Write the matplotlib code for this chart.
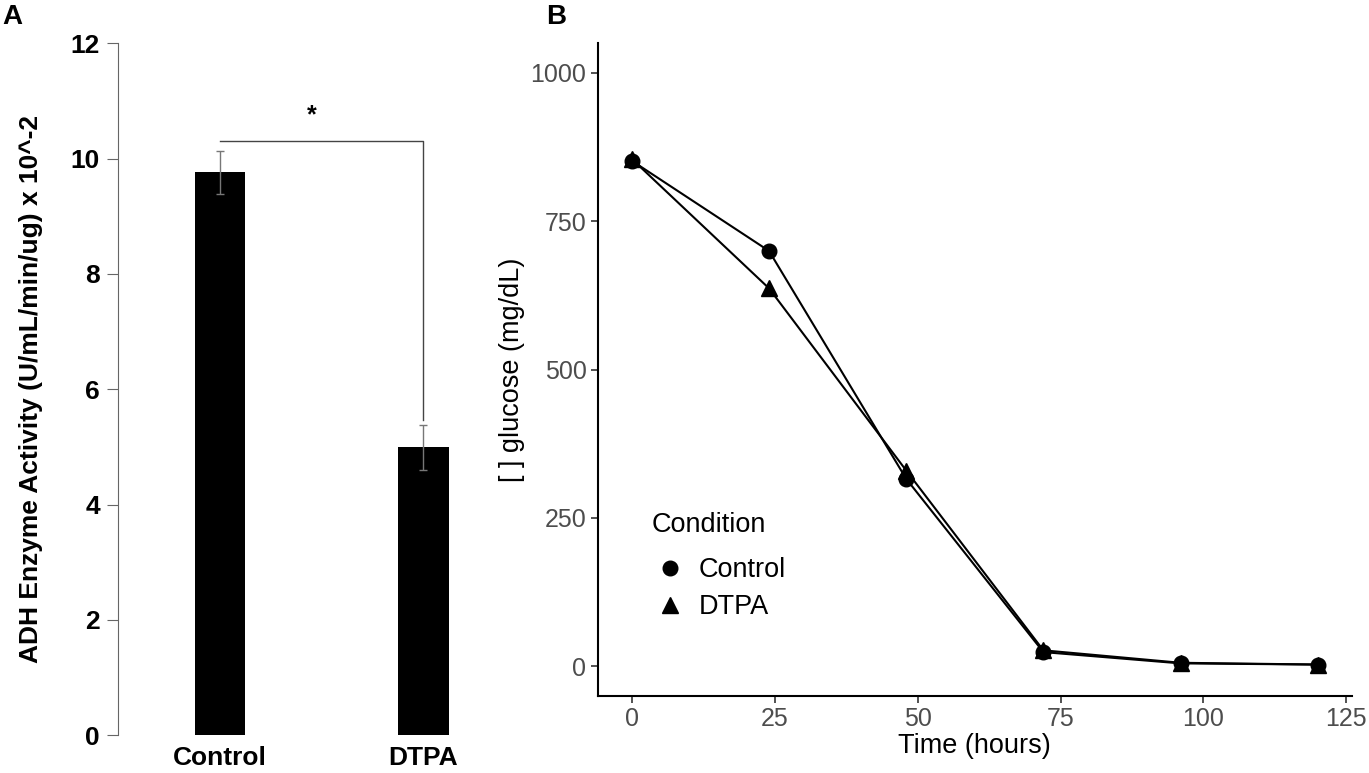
import numpy as np
import matplotlib
matplotlib.use("Agg")
import matplotlib.pyplot as plt

plt.rcParams['font.family'] = ['Liberation Sans', 'DejaVu Sans']

# panel A data
groups = ['Control', 'DTPA']
activity = [9.76, 4.99]
activity_err = [0.37, 0.39]

# panel B data
hours = [0, 24, 48, 72, 96, 120]
glucose_control = [852, 700, 316, 24, 5, 3]
glucose_dtpa = [855, 637, 330, 27, 6, 3]

fig = plt.figure(figsize=(13.69, 7.73), dpi=100)

# ---- Panel A
ax1 = fig.add_axes([0.0862, 0.049, 0.272, 0.895])
x = np.arange(len(groups))
ax1.bar(x, activity, width=0.25, color='black')
ax1.errorbar(x, activity, yerr=activity_err, fmt='none', ecolor='#777777',
             elinewidth=1, capsize=3, capthick=1)
ax1.set_xlim(-0.502, 1.33)
ax1.set_ylim(0, 12)
ax1.set_yticks([0, 2, 4, 6, 8, 10, 12])
ax1.set_xticks(x)
ax1.set_xticklabels(groups, fontsize=19, fontweight='bold')
for lab in ax1.get_yticklabels():
    lab.set_fontweight('bold')
ax1.tick_params(axis='y', labelsize=19, length=8, color='#666666', pad=5)
ax1.tick_params(axis='x', length=0, pad=8)
for s in ['top', 'right', 'bottom']:
    ax1.spines[s].set_visible(False)
ax1.spines['left'].set_color('#666666')
ax1.set_ylabel('ADH Enzyme Activity (U/mL/min/ug) x 10^-2', fontsize=19,
               fontweight='bold', labelpad=20)

# significance bracket
y_br = 10.3
ax1.plot([x[0], x[1], x[1]], [y_br, y_br, activity[1] + activity_err[1] + 0.08],
         color='#444444', lw=1)
ax1.text((x[0] + x[1]) / 2 - 0.05, y_br + 0.45, '*', ha='center', va='center',
         fontsize=18, fontweight='bold')

# ---- Panel B
ax2 = fig.add_axes([0.4365, 0.0996, 0.5511, 0.8444])
ax2.plot(hours, glucose_control, color='black', lw=1.5, marker='o',
         markersize=10.5, label='Control')
ax2.plot(hours, glucose_dtpa, color='black', lw=1.5, marker='^',
         markersize=11.5, label='DTPA')
ax2.set_xlim(-6, 126)
ax2.set_ylim(-50, 1050)
ax2.set_xticks([0, 25, 50, 75, 100, 125])
ax2.set_yticks([0, 250, 500, 750, 1000])
ax2.tick_params(labelsize=18, labelcolor='#4D4D4D', color='#333333',
                length=5, width=1.2, pad=3)
for s in ['top', 'right']:
    ax2.spines[s].set_visible(False)
for s in ['left', 'bottom']:
    ax2.spines[s].set_linewidth(1.5)
ax2.set_xlabel('Time (hours)', fontsize=19.5, labelpad=1)
ax2.set_ylabel('[ ] glucose (mg/dL)', fontsize=19.5, labelpad=4)

leg = ax2.legend(title='Condition', loc='upper left',
                 bbox_to_anchor=(0.072, 0.282), frameon=False, fontsize=19.5,
                 title_fontsize=19.5, handlelength=1.33, handletextpad=0.4,
                 labelspacing=0.4, borderpad=0, borderaxespad=0)
leg._legend_box.align = 'left'
leg._legend_box.sep = 14
for h in leg.legend_handles:
    h.set_linestyle('none')

fig.text(0.002, 0.978, 'A', fontsize=20, fontweight='bold', va='center')
fig.text(0.399, 0.978, 'B', fontsize=20, fontweight='bold', va='center')

fig.savefig('out.png', dpi=100)
